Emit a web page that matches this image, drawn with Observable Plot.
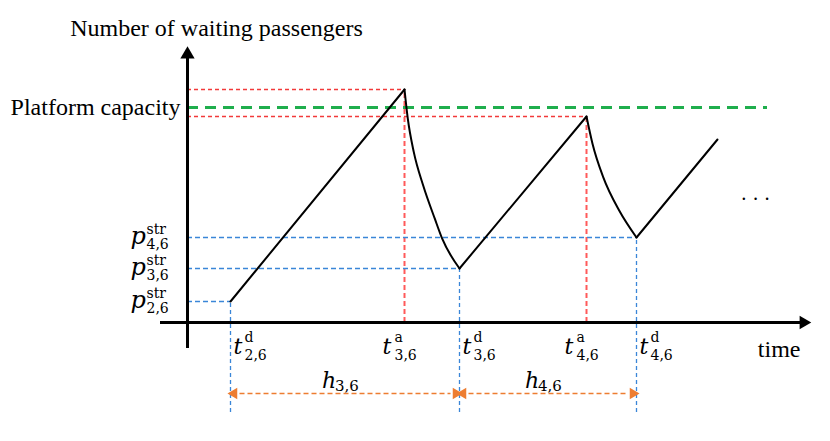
<!DOCTYPE html>
<html>
<head>
<meta charset="utf-8">
<script src="https://cdn.jsdelivr.net/npm/d3@7"></script>
<script src="https://cdn.jsdelivr.net/npm/@observablehq/plot@0.6"></script>
<style>
  html, body { margin: 0; padding: 0; background: #fff; }
  #chart svg { display: block; }
</style>
</head>
<body>
<div id="chart"></div>
<script>
// ---- data (time in arbitrary units, passengers in arbitrary units) ----
const departTimes = [4.3, 27.2, 44.9];          // t^d_{2,6}, t^d_{3,6}, t^d_{4,6}
const departSubs = ["2,6", "3,6", "4,6"];
const arrivalTimes = [21.7, 39.9];              // t^a_{3,6}, t^a_{4,6}
const arrivalSubs = ["3,6", "4,6"];
const strandedCounts = [10.5, 27, 42.5];        // p^str_{2,6}, p^str_{3,6}, p^str_{4,6}
const strandedSubs = ["2,6", "3,6", "4,6"];
const peakCounts = [116.5, 103];                // waiting passengers at arrivals
const platformCapacity = 107.5;
const headwaySubs = ["3,6", "4,6"];

// straight accumulation segments
const rampTimes = [[4.3, 21.7], [27.2, 39.9], [44.9, 53.0]];
const rampCounts = [[10.5, 116.5], [27, 103], [42.5, 91.5]];
// boarding (decay) segments
const dropTimes = [[21.7, 22.03, 22.63, 23.57, 24.73, 25.47, 27.2], [39.9, 40.5, 41.57, 43.17, 44.9]];
const dropCounts = [[116.5, 101.9, 85.2, 68.5, 51.9, 41.9, 27], [103, 89.4, 72.7, 56, 42.5]];

// frame extents
const xAxisExtent = [-2.7, 62.3];
const yAxisExtent = [-13, 137.5];
const capacityEnd = 58;
const guideBottom = -45;
const headwayLevel = -35.5;
const ellipsisPos = [56.8, 61.5];

// ---- derived tables ----
const ramps = rampTimes.flatMap((ts, i) => ts.map((t, j) => ({seg: i, t, n: rampCounts[i][j]})));
const drops = dropTimes.flatMap((ts, i) => ts.map((t, j) => ({seg: i, t, n: dropCounts[i][j]})));
const departs = departTimes.map((t, i) => ({t, n: strandedCounts[i], sub: departSubs[i], psub: strandedSubs[i]}));
const arrivals = arrivalTimes.map((t, i) => ({t, n: peakCounts[i], sub: arrivalSubs[i]}));
const headways = headwaySubs.map((sub, i) => ({t1: departTimes[i], t2: departTimes[i + 1], mid: (departTimes[i] + departTimes[i + 1]) / 2, sub}));

const MATH = "DejaVu Serif";
const TEXT = "Liberation Serif";
const red = "#f23a3a", blue = "#3a86d8", green = "#1fae4d", orange = "#ed7d31";

function mathLabel(data, {x, y, base, sup, sub, bdx, bdy, sdx, supdy, subdy, baseSize = 22, scriptSize = 15}) {
  const common = {x, y, lineAnchor: "bottom", textAnchor: "start", fill: "black", fontFamily: MATH};
  const marks = [
    Plot.text(data, {...common, text: base, dx: bdx, dy: bdy, fontStyle: "italic", fontSize: baseSize})
  ];
  if (sup) marks.push(Plot.text(data, {...common, text: sup, dx: sdx, dy: supdy, fontSize: scriptSize}));
  if (sub) marks.push(Plot.text(data, {...common, text: sub, dx: sdx, dy: subdy, fontSize: scriptSize}));
  return marks;
}

const chart = Plot.plot({
  width: 830,
  height: 441,
  margin: 0,
  x: {domain: [-18.7, 64.3], range: [0, 830], axis: null},
  y: {domain: [-59.5, 161], range: [441, 0], axis: null},
  style: {background: "white", fontFamily: TEXT},
  marks: [
    // capacity line
    Plot.ruleY([platformCapacity], {x1: 0, x2: capacityEnd, stroke: green, strokeWidth: 3, strokeDasharray: "11,7"}),
    // red guides at arrivals
    Plot.ruleY(arrivals, {y: "n", x1: 0, x2: "t", stroke: red, strokeWidth: 1.3, strokeDasharray: "4,3"}),
    Plot.ruleX(arrivals, {x: "t", y1: 0, y2: "n", stroke: "#ff5a5a", strokeWidth: 2, strokeDasharray: "5,3"}),
    // blue guides at departures
    Plot.ruleY(departs, {y: "n", x1: 0, x2: "t", stroke: blue, strokeWidth: 1.3, strokeDasharray: "5,3"}),
    Plot.ruleX(departs, {x: "t", y1: guideBottom, y2: "n", stroke: blue, strokeWidth: 1.3, strokeDasharray: "4,3"}),
    // headway arrows
    Plot.link(headways, {x1: d => d.t1 + 0.9, x2: d => d.t2 - 0.9, y1: headwayLevel, y2: headwayLevel, stroke: orange, strokeWidth: 1.5, strokeDasharray: "5,3"}),
    Plot.dot(headways, {x: d => d.t1 + 0.35, y: headwayLevel, symbol: "triangle", r: 4.2, rotate: -90, fill: orange, stroke: "none"}),
    Plot.dot(headways, {x: d => d.t2 - 0.35, y: headwayLevel, symbol: "triangle", r: 4.2, rotate: 90, fill: orange, stroke: "none"}),
    // axes
    Plot.ruleY([0], {x1: xAxisExtent[0], x2: xAxisExtent[1] - 1, stroke: "black", strokeWidth: 3}),
    Plot.ruleX([0], {y1: yAxisExtent[0], y2: yAxisExtent[1] - 4, stroke: "black", strokeWidth: 3}),
    Plot.dot([0], {x: xAxisExtent[1] - 0.7, y: 0, symbol: "triangle", r: 5, rotate: 90, fill: "black", stroke: "none"}),
    Plot.dot([0], {x: 0, y: yAxisExtent[1] - 3.5, symbol: "triangle", r: 5.3, fill: "black", stroke: "none"}),
    // waiting passengers
    Plot.line(ramps, {x: "t", y: "n", z: "seg", stroke: "black", strokeWidth: 2}),
    Plot.line(drops, {x: "t", y: "n", z: "seg", stroke: "black", strokeWidth: 2, curve: "monotone-x"}),
    // plain text
    Plot.text(["Number of waiting passengers"], {x: 2.9, y: (322 - 35) / 2, text: d => d, fontSize: 24, lineAnchor: "bottom", fontFamily: TEXT}),
    Plot.text(["Platform capacity"], {x: 0, y: platformCapacity, text: d => d, dx: -7, dy: 7, fontSize: 24, textAnchor: "end", lineAnchor: "bottom", fontFamily: TEXT}),
    Plot.text(["time"], {x: xAxisExtent[1], y: 0, text: d => d, dx: -10, dy: 34, fontSize: 24, textAnchor: "end", lineAnchor: "bottom", fontFamily: TEXT}),
    Plot.text(["· · ·"], {x: ellipsisPos[0], y: ellipsisPos[1], text: d => d, fontSize: 20, fontFamily: TEXT}),
    // math labels
    ...mathLabel(departs, {x: () => 0, y: "n", base: () => "p", sup: () => "str", sub: "psub", bdx: -57, bdy: 6, sdx: -41, supdy: -4, subdy: 11, baseSize: 24, scriptSize: 14}),
    ...mathLabel(departs, {x: "t", y: () => 0, base: () => "t", sup: () => "d", sub: "sub", bdx: 3, bdy: 31, sdx: 14, supdy: 19, subdy: 37, scriptSize: 14}),
    ...mathLabel(arrivals, {x: "t", y: () => 0, base: () => "t", sup: () => "a", sub: "sub", bdx: -22, bdy: 31, sdx: -10, supdy: 19, subdy: 37, scriptSize: 14}),
    ...mathLabel(headways, {x: "mid", y: () => headwayLevel, base: () => "h", sub: "sub", bdx: -23, bdy: -6, sdx: -10, subdy: -3})
  ]
});
document.getElementById("chart").appendChild(chart);
</script>
</body>
</html>
